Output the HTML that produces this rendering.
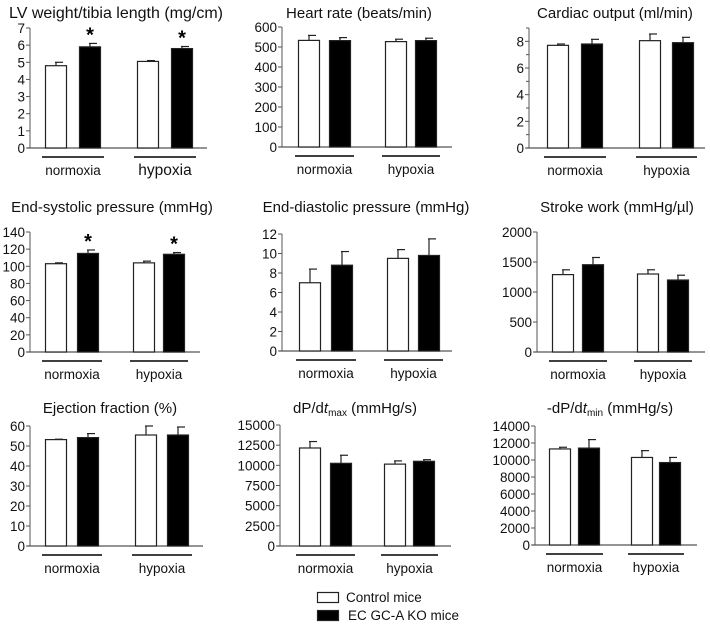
<!DOCTYPE html>
<html><head><meta charset="utf-8">
<style>
html,body{margin:0;padding:0;background:#fff;}
svg{display:block;font-family:"Liberation Sans",Arial,sans-serif;}
</style></head>
<body>
<svg id="fig" width="710" height="625" viewBox="0 0 710 625"></svg>
<script>
const groups = ["normoxia","hypoxia"];
const seriesNames = ["Control mice","EC GC-A KO mice"];

const lvMeans = [4.8, 5.9, 5.05, 5.8];
const lvErrs = [0.2, 0.2, 0.05, 0.12];
const lvTicks = [0,1,2,3,4,5,6,7];
const lvSig = [false, true, false, true];

const hrMeans = [533, 532, 527, 532];
const hrErrs = [25, 15, 12, 12];
const hrTicks = [0,100,200,300,400,500,600];

const coMeans = [7.7, 7.8, 8.05, 7.9];
const coErrs = [0.1, 0.35, 0.5, 0.4];
const coTicks = [0,2,4,6,8];

const espMeans = [103, 115, 104, 114];
const espErrs = [1, 4, 2, 2];
const espTicks = [0,20,40,60,80,100,120,140];
const espSig = [false, true, false, true];

const edpMeans = [7.0, 8.8, 9.5, 9.8];
const edpErrs = [1.4, 1.4, 0.9, 1.7];
const edpTicks = [0,2,4,6,8,10,12];

const swMeans = [1290, 1455, 1300, 1200];
const swErrs = [80, 120, 70, 80];
const swTicks = [0,500,1000,1500,2000];

const efMeans = [53.2, 54.2, 55.5, 55.5];
const efErrs = [0.2, 2, 4.5, 4];
const efTicks = [0,10,20,30,40,50,60];

const dpMaxMeans = [12150, 10250, 10150, 10500];
const dpMaxErrs = [800, 1000, 400, 200];
const dpMaxTicks = [0,2500,5000,7500,10000,12500,15000];

const dpMinMeans = [11300, 11400, 10300, 9700];
const dpMinErrs = [200, 1000, 800, 600];
const dpMinTicks = [0,2000,4000,6000,8000,10000,12000,14000];

const NS = "http://www.w3.org/2000/svg";
const svg = document.getElementById("fig");
function mk(tag, attrs, parent){
  const e = document.createElementNS(NS, tag);
  for (const k in attrs) e.setAttribute(k, attrs[k]);
  (parent||svg).appendChild(e);
  return e;
}

function panel(cfg){
  const g = mk("g", {});
  
  
  const ymax = cfg.axisMax;
  const y = v => cfg.y0 - (v / ymax) * (cfg.y0 - cfg.yTop);
  const t = mk("text", {x: cfg.titleX, y: cfg.titleY, "text-anchor":"middle", "font-size": cfg.titleSize || "15", fill:"#111"}, g);
  
  
  if (cfg.titleSub){
    t.appendChild(document.createTextNode(cfg.title[0]));
    const it = mk("tspan", {"font-style":"italic"}, t); it.textContent = "t";
    const sb = mk("tspan", {"font-size":"10", dy:"3"}, t); sb.textContent = cfg.titleSub;
    const rest = mk("tspan", {dy:"-3"}, t); rest.textContent = cfg.title[1];
  } else t.textContent = cfg.title;
  const ya = mk("line", {x1:cfg.ax, x2:cfg.ax, y1:cfg.yTop, y2:cfg.y0, stroke:"#555", "stroke-width":"1"}, g);
  
  
  const xa = mk("line", {x1:cfg.ax-3, x2:cfg.axEnd, y1:cfg.y0, y2:cfg.y0, stroke:"#555", "stroke-width":"1.2"}, g);
  
  
  (cfg.minor||[]).forEach(v => {
    mk("line", {x1:cfg.ax-3, x2:cfg.ax, y1:y(v), y2:y(v), stroke:"#555"}, g);
  });
  cfg.ticks.forEach(v => {
    mk("line", {x1:cfg.ax-4, x2:cfg.ax, y1:y(v), y2:y(v), stroke:"#555"}, g);
    const tl = mk("text", {x:cfg.ax-5, y:y(v)+5, "text-anchor":"end", "font-size":"13.5", fill:"#111"}, g);
    
    
    tl.textContent = v;
  });
  cfg.means.forEach((m, i) => {
    const bx = cfg.ax + cfg.offs[i];
    const top = y(m);
    const et = y(m + cfg.errs[i]);
    const cx = bx + 11;
    const eb = mk("line", {x1:cx, x2:cx, y1:et, y2:top, stroke:"#222", "stroke-width":"1.2"}, g);
    
    
    mk("line", {x1:cx-1, x2:cx+7, y1:et, y2:et, stroke:"#222", "stroke-width":"1.2"}, g);
    const r = mk("rect", {x:bx+0.5, y:top, width:21, height:cfg.y0-top, fill: i%2 ? "#000" : "#fff", stroke:"#222", "stroke-width":"1.2"}, g);
    
    
    if (cfg.sig && cfg.sig[i]){
      const s = mk("text", {x:cx, y:et-2, "text-anchor":"middle", "font-size":"20", "font-weight":"bold", fill:"#000"}, g);
      
      
      s.textContent = "*";
    }
  });
  groups.forEach((gname, gi) => {
    const x1 = cfg.ax + cfg.offs[gi*2] - 3, x2 = cfg.ax + cfg.offs[gi*2+1] + 25;
    const gl = mk("line", {x1:x1, x2:x2, y1:cfg.y0+9, y2:cfg.y0+9, stroke:"#000", "stroke-width":"1.5"}, g);
    
    
    const lb = mk("text", {x:(x1+x2)/2, y:cfg.y0+27, "text-anchor":"middle", "font-size": (cfg.bigHyp && gi==1) ? "15.5" : "13.5", fill:"#111"}, g);
    
    
    lb.textContent = gname;
  });
}

panel({name:"lv-weight-panel", title:"LV weight/tibia length (mg/cm)", titleSize:"16", titleX:116, titleY:18, ax:30, axEnd:207, yTop:28, y0:148, axisMax:7, ticks:lvTicks, means:lvMeans, errs:lvErrs, sig:lvSig, offs:[15,49,107,141], bigHyp:true});
panel({name:"heart-rate-panel", title:"Heart rate (beats/min)", titleX:359, titleY:18, ax:282, axEnd:452, yTop:27, y0:147, axisMax:600, ticks:hrTicks, means:hrMeans, errs:hrErrs, offs:[16,47,103,133]});
panel({name:"cardiac-output-panel", title:"Cardiac output (ml/min)", titleX:615, titleY:18, ax:529, axEnd:705, yTop:28, y0:148, axisMax:9, ticks:coTicks, minor:[1,3,5,7,9], means:coMeans, errs:coErrs, offs:[18,52,110,143]});

panel({name:"end-systolic-pressure-panel", title:"End-systolic pressure (mmHg)", titleX:112, titleY:212, ax:30, axEnd:200, yTop:232, y0:352, axisMax:140, ticks:espTicks, means:espMeans, errs:espErrs, sig:espSig, offs:[15,47,103,133]});
panel({name:"end-diastolic-pressure-panel", title:"End-diastolic pressure (mmHg)", titleX:366, titleY:212, ax:282, axEnd:452, yTop:234, y0:351, axisMax:12, ticks:edpTicks, means:edpMeans, errs:edpErrs, offs:[17,49,105,136]});
panel({name:"stroke-work-panel", title:"Stroke work (mmHg/\u00B5l)", titleX:617, titleY:212, ax:537, axEnd:705, yTop:232, y0:352, axisMax:2000, ticks:swTicks, means:swMeans, errs:swErrs, offs:[15,45,100,130]});

panel({name:"ejection-fraction-panel", title:"Ejection fraction (%)", titleX:110, titleY:413, ax:30, axEnd:203, yTop:426, y0:546, axisMax:60, ticks:efTicks, means:efMeans, errs:efErrs, offs:[15,47,105,137]});
panel({name:"dpdt-max-panel", title:["dP/d"," (mmHg/s)"], titleSub:"max", titleX:355, titleY:413, ax:280, axEnd:451, yTop:425, y0:546, axisMax:15000, ticks:dpMaxTicks, means:dpMaxMeans, errs:dpMaxErrs, offs:[19,50,104,133]});
panel({name:"dpdt-min-panel", title:["-dP/d"," (mmHg/s)"], titleSub:"min", titleX:610, titleY:413, ax:535, axEnd:697, yTop:426, y0:545, axisMax:14000, ticks:dpMinTicks, means:dpMinMeans, errs:dpMinErrs, offs:[14,43,96,124]});

const leg = mk("g", {});


seriesNames.forEach((n, i) => {
  const yy = 592 + i*18;
  const r = mk("rect", {x:317.5, y:yy+0.5, width:21, height:10, fill: i ? "#000" : "#fff", stroke:"#222", "stroke-width":"1.2"}, leg);
  
  
  const t = mk("text", {x: i ? 348 : 346, y:yy+10, "font-size":"13.5", fill:"#111"}, leg);
  
  
  t.textContent = n;
});
</script>
</body></html>
